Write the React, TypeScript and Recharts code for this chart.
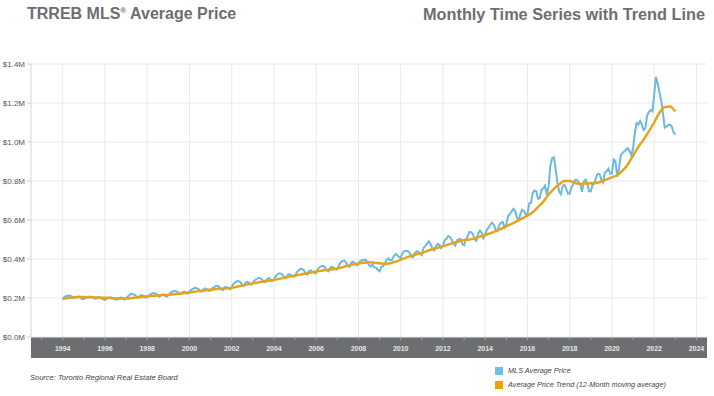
import { CartesianGrid, Line, LineChart, XAxis, YAxis } from "recharts";

// monthly MLS average price ($000), Jan..Dec per year, 1994 - 2022, plus Jan 2023
const startYear = 1994;
const mlsPrice: number[][] = [
  [195, 205, 210, 212, 213, 210, 203, 200, 205, 207, 203, 195], // 1994
  [195, 200, 205, 207, 203, 206, 197, 196, 203, 205, 200, 193], // 1995
  [190, 196, 200, 204, 201, 200, 193, 191, 199, 202, 199, 192], // 1996
  [198, 208, 215, 222, 218, 217, 207, 202, 212, 215, 211, 202], // 1997
  [205, 213, 220, 224, 224, 222, 213, 207, 215, 219, 214, 207], // 1998
  [215, 225, 232, 236, 236, 233, 224, 220, 229, 233, 229, 222], // 1999
  [232, 242, 247, 252, 250, 247, 237, 233, 245, 249, 243, 236], // 2000
  [238, 250, 255, 262, 262, 256, 244, 240, 255, 256, 251, 244], // 2001
  [256, 272, 279, 287, 286, 281, 267, 262, 279, 283, 277, 268], // 2002
  [275, 290, 296, 302, 303, 298, 285, 281, 296, 302, 296, 287], // 2003
  [293, 313, 322, 327, 325, 318, 307, 303, 320, 322, 316, 308], // 2004
  [312, 333, 340, 350, 349, 342, 327, 320, 338, 342, 335, 327], // 2005
  [328, 348, 358, 363, 365, 357, 342, 337, 355, 360, 353, 346], // 2006
  [347, 370, 383, 390, 392, 383, 364, 360, 383, 386, 377, 367], // 2007
  [373, 390, 394, 394, 398, 385, 370, 361, 373, 357, 355, 345], // 2008
  [337, 360, 363, 376, 396, 403, 395, 395, 413, 425, 420, 410], // 2009
  [405, 431, 440, 441, 441, 432, 413, 408, 429, 439, 438, 428], // 2010
  [420, 457, 466, 480, 490, 477, 453, 444, 465, 477, 473, 455], // 2011
  [466, 497, 502, 518, 513, 498, 478, 469, 496, 500, 503, 477], // 2012
  [470, 501, 515, 538, 537, 528, 500, 493, 530, 546, 535, 507], // 2013
  [525, 550, 562, 578, 586, 575, 549, 544, 574, 587, 590, 561], // 2014
  [577, 622, 630, 643, 657, 647, 613, 600, 631, 652, 647, 627], // 2015
  [630, 685, 688, 739, 751, 747, 709, 711, 756, 762, 776, 730], // 2016
  [771, 875, 916, 921, 863, 793, 746, 732, 774, 781, 761, 735], // 2017
  [736, 767, 784, 805, 806, 795, 784, 744, 796, 807, 788, 747], // 2018
  [747, 780, 788, 820, 837, 835, 806, 793, 844, 850, 863, 837], // 2019
  [839, 910, 902, 821, 863, 931, 944, 951, 961, 968, 955, 932], // 2020
  [967, 1046, 1097, 1090, 1108, 1089, 1062, 1071, 1136, 1155, 1163, 1157], // 2021
  [1243, 1334, 1300, 1254, 1212, 1146, 1074, 1079, 1086, 1089, 1079, 1050], // 2022
  [1038], // 2023
];

// 12-month moving average trend ($000), read quarterly from 1994.0
const trendPrice = [
  195, 200, 203, 205, 205, 204, 203, 202, 201, 200, 198, 198, // 1994-96
  197, 199, 202, 206, 209, 211, 213, 215, 216, 219, 222, 225, // 1997-99
  228, 232, 236, 240, 243, 246, 248, 250, 252, 258, 264, 270, // 2000-02
  275, 280, 285, 289, 293, 298, 304, 310, 315, 320, 326, 331, // 2003-05
  336, 340, 344, 348, 352, 358, 365, 372, 377, 381, 383, 381, // 2006-08
  378, 375, 378, 386, 396, 407, 416, 424, 431, 441, 450, 458, // 2009-11
  465, 474, 482, 490, 497, 500, 506, 515, 523, 532, 543, 555, // 2012-14
  567, 580, 594, 608, 622, 640, 666, 694, 730, 760, 782, 800, // 2015-17
  800, 790, 785, 787, 788, 790, 797, 808, 819, 830, 853, 885, // 2018-20
  930, 975, 1012, 1055, 1100, 1150, 1180, 1182, 1156, // 2021-23
];

const yearTicks = [1994, 1996, 1998, 2000, 2002, 2004, 2006, 2008, 2010, 2012, 2014, 2016, 2018, 2020, 2022, 2024];
const allYears = Array.from({ length: 32 }, (_, i) => 1993 + i);
const priceTicks = [0, 200000, 400000, 600000, 800000, 1000000, 1200000, 1400000];

const mlsData = mlsPrice.flatMap((row, y) =>
  row.map((v, m) => ({ t: startYear + y + m / 12, mls: v * 1000 }))
);
const trendData = trendPrice.map((v, i) => ({ t: startYear + i / 4, trend: v * 1000 }));

const FONT = '"Liberation Sans", Arial, sans-serif';
const GREY = "#6d6e71";
const BLUE = "#6cb9de";
const ORANGE = "#e5a41b";

function YearTick(props: any) {
  const { x, y, payload } = props;
  const even = payload.value % 2 === 0;
  return (
    <g>
      <line x1={x} x2={x} y1={y - 8} y2={y - 5} stroke="#a5a6a8" />
      {even && (
        <text x={x} y={y + 6} textAnchor="middle" fill="#e6e6e6" fontSize={7} fontWeight="bold" fontFamily={FONT}>
          {payload.value}
        </text>
      )}
    </g>
  );
}

export default function App() {
  return (
    <div style={{ position: "relative", width: 714, height: 396, background: "#fff", fontFamily: FONT }}>
      <style>{"body{margin:0}"}</style>
      <div style={{ position: "absolute", left: 27, top: 5, fontSize: 16, fontWeight: "bold", color: GREY }}>
        TRREB MLS<sup style={{ fontSize: 8 }}>®</sup> Average Price
      </div>
      <div style={{ position: "absolute", right: 9, top: 5, fontSize: 16.3, fontWeight: "bold", color: GREY }}>
        Monthly Time Series with Trend Line
      </div>
      <div style={{ position: "absolute", left: 31, top: 337, width: 676, height: 21, background: GREY }} />
      <div style={{ position: "absolute", left: 0, top: 0 }}>
        <LineChart width={714} height={396} margin={{ top: 64, right: 7, bottom: 38, left: 0 }}>
          <CartesianGrid stroke="#e9e9e9" verticalValues={yearTicks} horizontalValues={priceTicks} />
          <XAxis
            type="number"
            dataKey="t"
            domain={[1992.5, 2024.5]}
            ticks={allYears}
            interval={0}
            height={21}
            axisLine={false}
            tickLine={false}
            tick={<YearTick />}
            allowDuplicatedCategory={false}
          />
          <YAxis
            type="number"
            domain={[0, 1400000]}
            ticks={priceTicks}
            width={31}
            tickSize={4}
            tickLine={{ stroke: "#cfcfcf" }}
            axisLine={{ stroke: "#d5d5d5" }}
            tick={{ fill: "#555", fontSize: 8, fontFamily: FONT }}
            tickFormatter={(v: number) => `$${(v / 1e6).toFixed(1)}M`}
          />
          <Line
            data={mlsData}
            dataKey="mls"
            type="linear"
            stroke={BLUE}
            strokeWidth={2}
            dot={false}
            isAnimationActive={false}
          />
          <Line
            data={trendData}
            dataKey="trend"
            type="monotone"
            stroke={ORANGE}
            strokeWidth={2.5}
            dot={false}
            isAnimationActive={false}
          />
        </LineChart>
      </div>
      <div style={{ position: "absolute", left: 30, top: 373, fontSize: 7.5, fontStyle: "italic", color: "#444" }}>
        Source: Toronto Regional Real Estate Board
      </div>
      <div style={{ position: "absolute", left: 495, top: 366, fontSize: 7.3, fontStyle: "italic", color: "#444" }}>
        <div style={{ display: "flex", alignItems: "center", height: 9 }}>
          <span style={{ width: 8, height: 8, background: "#6ec1ea", marginRight: 5 }} />
          MLS Average Price
        </div>
        <div style={{ display: "flex", alignItems: "center", height: 9, marginTop: 5 }}>
          <span style={{ width: 8, height: 8, background: "#f2a200", marginRight: 5 }} />
          Average Price Trend (12-Month moving average)
        </div>
      </div>
    </div>
  );
}
